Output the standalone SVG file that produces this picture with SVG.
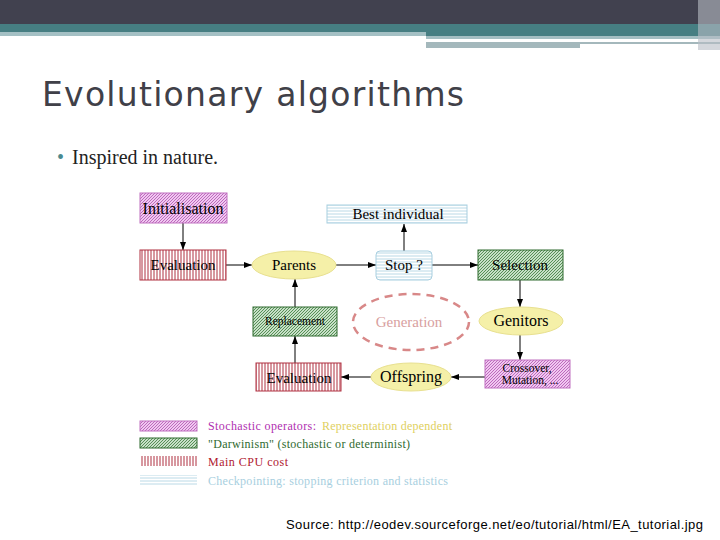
<svg xmlns="http://www.w3.org/2000/svg" width="720" height="540" viewBox="0 0 720 540">
<defs>
<pattern id="pk" width="3" height="3" patternUnits="userSpaceOnUse"><rect width="3" height="3" fill="#f0c8f0"/><path d="M0,3 L3,0" stroke="#b050b0" stroke-width="0.8"/></pattern>
<pattern id="gr" width="3" height="3" patternUnits="userSpaceOnUse"><rect width="3" height="3" fill="#c8e0c8"/><path d="M0,3 L3,0" stroke="#3a7a3a" stroke-width="0.8"/></pattern>
<pattern id="rd" width="3" height="3" patternUnits="userSpaceOnUse"><rect width="3" height="3" fill="#fff"/><path d="M1,0 V3" stroke="#b03040" stroke-width="1"/></pattern>
<pattern id="bl" width="3" height="3" patternUnits="userSpaceOnUse"><rect width="3" height="3" fill="#fff"/><path d="M0,1 H3" stroke="#a8cfe0" stroke-width="0.8"/></pattern>
<marker id="ar" markerWidth="8" markerHeight="6" refX="8" refY="3" orient="auto" markerUnits="userSpaceOnUse"><path d="M0,0 L8,3 L0,6 z" fill="#000"/></marker>
<style>
.t{font-family:"Liberation Serif",serif;fill:#000;text-anchor:middle}
.e{fill:#f5f0a8;stroke:#e8e090}
.c{stroke:#000;stroke-width:1;fill:none;marker-end:url(#ar)}
.lg{font-family:"Liberation Serif",serif;font-size:12px}
</style>
</defs>
<rect width="720" height="540" fill="#fff"/>
<rect width="720" height="24" fill="#41414f"/>
<rect y="24" width="720" height="8" fill="#467e82"/>
<rect y="32" width="426" height="4" fill="#a4c0c4"/>
<rect x="426" y="32" width="294" height="4" fill="#467e82"/>
<rect x="426" y="36" width="294" height="3" fill="#a4bec2"/>
<rect x="426" y="42" width="154" height="6" fill="#a4b8bc"/>
<rect x="580" y="42" width="140" height="2" fill="#a4b8bc"/>
<rect x="698" y="0" width="22" height="50" fill="#b8bcc4" opacity="0.6"/>
<text x="42" y="106" font-family="DejaVu Sans,sans-serif" font-size="33" fill="#404048" textLength="422">Evolutionary algorithms</text>
<text x="57" y="164" font-family="Liberation Serif,serif" font-size="20" fill="#4a8a90">•</text>
<text x="72" y="164" font-family="Liberation Serif,serif" font-size="20" fill="#222">Inspired in nature.</text>

<g id="connectors">
<path class="c" d="M183,223 V250"/>
<path class="c" d="M226,265 H252"/>
<path class="c" d="M336,265 H376"/>
<path class="c" d="M404,251 V224"/>
<path class="c" d="M432,265 H478"/>
<path class="c" d="M520,280 V307"/>
<path class="c" d="M520,335 V360"/>
<path class="c" d="M485,377 H451"/>
<path class="c" d="M371,377 H341"/>
<path class="c" d="M295,363 V336"/>
<path class="c" d="M295,307 V279"/>
</g>

<g id="init"><rect x="140" y="193" width="87" height="30" fill="url(#pk)" stroke="#c070c0"/><text class="t" x="183" y="214" font-size="16">Initialisation</text></g>
<g id="best"><rect x="327" y="205" width="140" height="18" fill="url(#bl)" stroke="#a8cfe0"/><text class="t" x="398" y="219" font-size="15">Best individual</text></g>
<g id="eval1"><rect x="140" y="250" width="86" height="30" fill="url(#rd)" stroke="#b03040"/><text class="t" x="183" y="270" font-size="15">Evaluation</text></g>
<g id="parents"><ellipse class="e" cx="294" cy="265" rx="42" ry="14"/><text class="t" x="294" y="270" font-size="15">Parents</text></g>
<g id="stop"><rect x="376" y="251" width="56" height="29" rx="4" fill="url(#bl)" stroke="#a8cfe0"/><text class="t" x="404" y="270" font-size="15">Stop ?</text></g>
<g id="selection"><rect x="478" y="250" width="85" height="30" fill="url(#gr)" stroke="#2f6a2f"/><text class="t" x="520" y="270" font-size="15">Selection</text></g>
<g id="replacement"><rect x="253" y="307" width="84" height="29" fill="url(#gr)" stroke="#2f6a2f"/><text class="t" x="295" y="325" font-size="11.5">Replacement</text></g>
<g id="generation"><ellipse cx="411" cy="322" rx="58" ry="28" fill="none" stroke="#d88888" stroke-width="2.5" stroke-dasharray="8,6"/><text class="t" x="409" y="327" font-size="15" style="fill:#d8a0a0">Generation</text></g>
<g id="genitors"><ellipse class="e" cx="521" cy="321" rx="42" ry="14"/><text class="t" x="521" y="326" font-size="16">Genitors</text></g>
<g id="crossover"><rect x="485" y="360" width="85" height="28" fill="url(#pk)" stroke="#c070c0"/><text class="t" x="527" y="372" font-size="11.5">Crossover,</text><text class="t" x="530" y="384" font-size="11.5">Mutation, ...</text></g>
<g id="offspring"><ellipse class="e" cx="411" cy="377" rx="40" ry="14"/><text class="t" x="411" y="382" font-size="16">Offspring</text></g>
<g id="eval2"><rect x="256" y="363" width="85" height="28" fill="url(#rd)" stroke="#b03040"/><text class="t" x="299" y="383" font-size="15">Evaluation</text></g>

<g id="legend">
<rect x="140" y="421" width="57" height="10" fill="url(#pk)" stroke="#c070c0"/>
<rect x="140" y="438" width="57" height="10" fill="url(#gr)" stroke="#2f6a2f"/>
<rect x="140" y="456" width="57" height="10" fill="url(#rd)"/>
<rect x="140" y="475" width="57" height="10" fill="url(#bl)"/>
<text class="lg" x="208" y="430" fill="#b030b0" textLength="108">Stochastic operators:</text>
<text class="lg" x="322" y="430" fill="#e0d060" textLength="130">Representation dependent</text>
<text class="lg" x="208" y="448" fill="#2f6a2f" textLength="202">"Darwinism" (stochastic or determinist)</text>
<text class="lg" x="208" y="466" fill="#b02030" textLength="80">Main CPU cost</text>
<text class="lg" x="208" y="485" fill="#a8cfe0" textLength="240">Checkpointing: stopping criterion and statistics</text>
</g>
<text x="286" y="529" font-family="Liberation Sans,sans-serif" font-size="13" fill="#000" textLength="417">Source: http://eodev.sourceforge.net/eo/tutorial/html/EA_tutorial.jpg</text>
</svg>
